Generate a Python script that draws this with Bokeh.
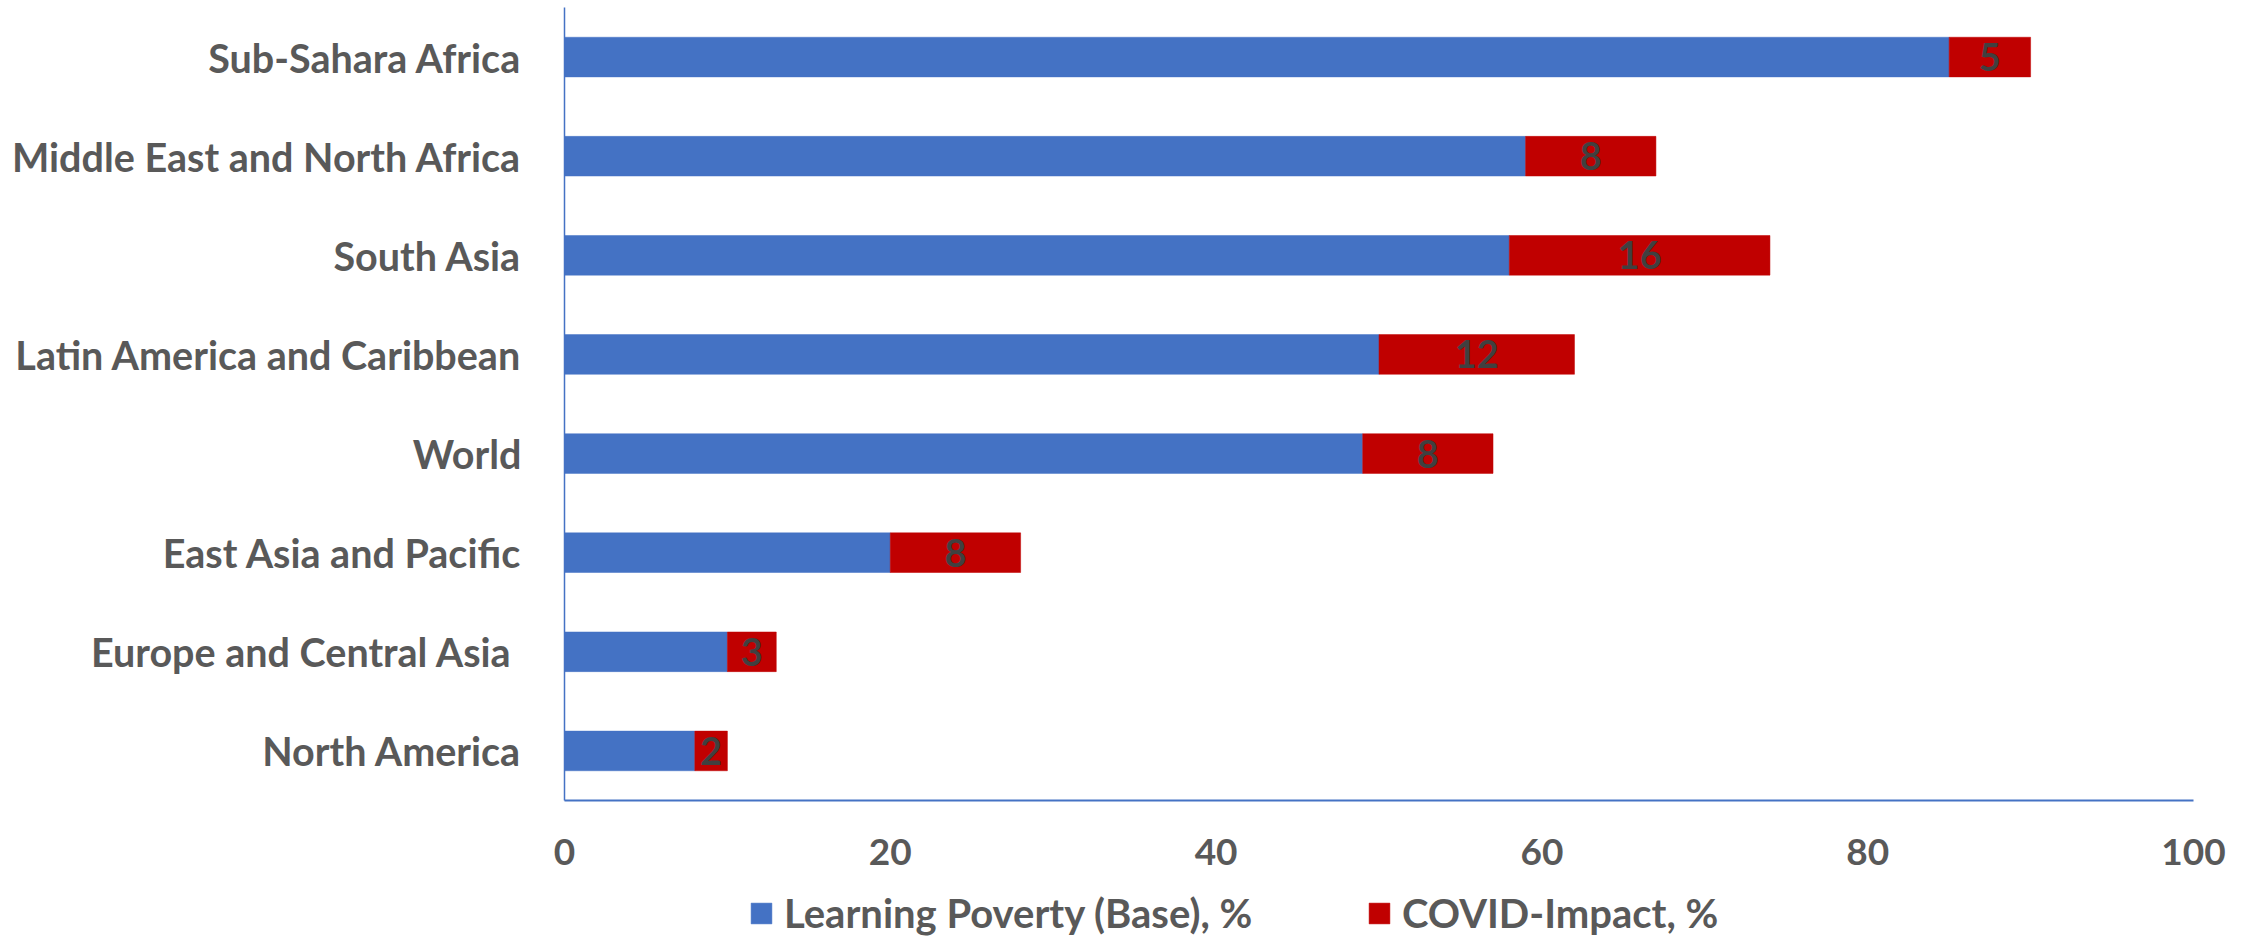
from bokeh.plotting import figure
from bokeh.layouts import column
from bokeh.models import (ColumnDataSource, Range1d, FactorRange, LabelSet,
                          Legend, LegendItem, FixedTicker)
from bokeh.core.properties import value
from bokeh.embed import file_html
from bokeh.resources import INLINE

# Regions, bottom to top as drawn on the categorical axis
# (the Europe label carries a trailing non-breaking space, as in the source sheet)
regions = [
    "North America",
    "Europe and Central Asia\u00a0",
    "East Asia and Pacific",
    "World",
    "Latin America and Caribbean",
    "South Asia",
    "Middle East and North Africa",
    "Sub-Sahara Africa",
]
base_pct = [8, 10, 20, 49, 50, 58, 59, 85]
covid_pct = [2, 3, 8, 8, 12, 16, 8, 5]
x_ticks = [0, 20, 40, 60, 80, 100]
series_names = ["Learning Poverty (Base), %", "COVID-Impact, %"]

FONT = "Lato"
GREY = "#595959"
BLUE = "#4472C4"
RED = "#C00000"

src = ColumnDataSource(dict(
    region=regions,
    base=base_pct,
    covid=covid_pct,
    total=[b + c for b, c in zip(base_pct, covid_pct)],
    mid=[b + c / 2 for b, c in zip(base_pct, covid_pct)],
    label=[str(c) for c in covid_pct],
))

W = 2255
H_MAIN, H_LEG = 880, 57
FRAME_LEFT = 564


def stacked_bars(fig, visible=True):
    """Base + COVID segments for every region."""
    rb = fig.hbar(y="region", left=0, right="base", height=0.4, source=src,
                  fill_color=BLUE, line_color=BLUE, line_width=0.5, visible=visible)
    rc = fig.hbar(y="region", left="base", right="total", height=0.4, source=src,
                  fill_color=RED, line_color=RED, line_width=0.5, visible=visible)
    return rb, rc


p = figure(width=W, height=H_MAIN, output_backend="svg", toolbar_location=None,
           x_range=Range1d(0, 100), y_range=FactorRange(*regions, range_padding=0),
           min_border_left=FRAME_LEFT, min_border_right=62, min_border_top=7,
           min_border_bottom=H_MAIN - 800)
p.outline_line_color = None
p.grid.visible = False
p.background_fill_color = "white"
p.border_fill_color = "white"

stacked_bars(p)

labels = LabelSet(x="mid", y="region", text="label", source=src,
                  text_align="center", text_baseline="middle",
                  text_font=value(FONT), text_font_style="bold",
                  text_font_size="38px", text_color="#404040")
p.add_layout(labels)

# x axis
xa = p.xaxis[0]
xa.ticker = FixedTicker(ticks=x_ticks)
xa.axis_line_color = BLUE
xa.axis_line_width = 2
xa.major_tick_line_color = None
xa.minor_tick_line_color = None
xa.major_tick_out = 0
xa.major_tick_in = 0
xa.major_label_standoff = 38
xa.major_label_text_font = FONT
xa.major_label_text_font_style = "bold"
xa.major_label_text_font_size = "37px"
xa.major_label_text_color = GREY

# y axis
ya = p.yaxis[0]
ya.axis_line_color = BLUE
ya.axis_line_width = 1.5
ya.major_tick_line_color = None
ya.minor_tick_line_color = None
ya.major_tick_out = 0
ya.major_tick_in = 0
ya.major_label_standoff = 43
ya.major_label_text_font = FONT
ya.major_label_text_font_style = "bold"
ya.major_label_text_font_size = "39.5px"
ya.major_label_text_color = GREY

# Legend strip underneath the chart; its (hidden) bars only serve as legend keys
leg = figure(width=W, height=H_LEG, output_backend="svg", toolbar_location=None,
             x_range=Range1d(0, 100), y_range=FactorRange(*regions),
             min_border=0, min_border_left=0, min_border_right=0,
             min_border_top=0, min_border_bottom=0)
leg.axis.visible = False
leg.grid.visible = False
leg.outline_line_color = None
leg.background_fill_color = "white"
leg.border_fill_color = "white"
key_base, key_cov = stacked_bars(leg, visible=False)

legend = Legend(items=[
    LegendItem(label=series_names[0], renderers=[key_base]),
    LegendItem(label=series_names[1], renderers=[key_cov]),
], orientation="horizontal", location=(748 - FRAME_LEFT, 0))
legend.glyph_width = 26
legend.glyph_height = 26
legend.label_standoff = 10
legend.label_width = 582
legend.spacing = 0
legend.padding = 0
legend.margin = 0
legend.border_line_color = None
legend.background_fill_alpha = 0
legend.label_text_font = FONT
legend.label_text_font_style = "bold"
legend.label_text_font_size = "40px"
legend.label_text_color = GREY
leg.add_layout(legend, "center")

layout = column(p, leg, spacing=0)
open("out.html", "w").write(file_html(layout, INLINE))
